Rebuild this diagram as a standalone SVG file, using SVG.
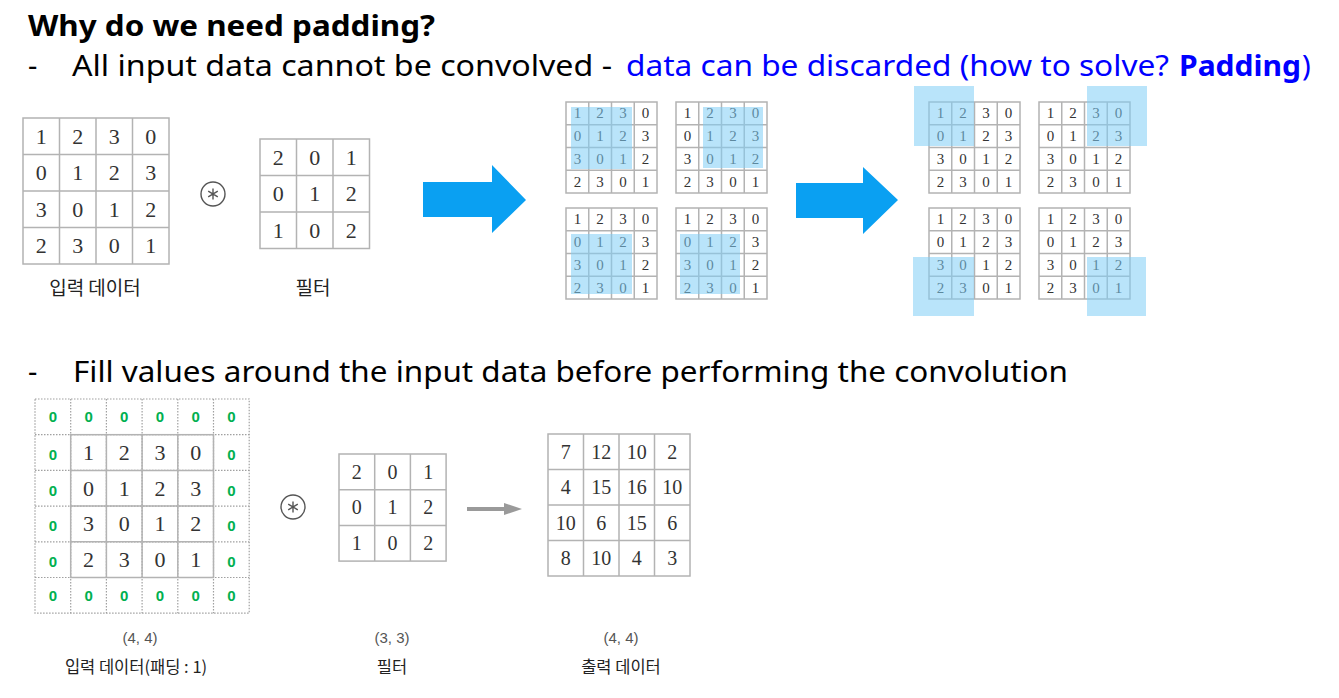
<svg xmlns="http://www.w3.org/2000/svg" width="1339" height="698" viewBox="0 0 1339 698">
<style>
.bg{fill:#fff}
.g{fill:none;stroke:#b3b3b3;stroke-width:1.5}
.d{fill:none;stroke:#a0a0a0;stroke-width:1.2;stroke-dasharray:1.5 1.5}
.n{font-family:"Liberation Serif","DejaVu Serif",serif;fill:#333;text-anchor:middle}
.L{font-size:22px}
.M{font-size:20px}
.s{font-size:15px}
.z{font-family:"Liberation Sans",Arial,sans-serif;font-weight:bold;font-size:15px;fill:#00b050;text-anchor:middle}
.hl{fill:#7fcdf5;fill-opacity:0.55}
.t{font-family:"Noto Sans","Open Sans","Liberation Sans",sans-serif;fill:#000}
.kr{font-family:"Noto Sans CJK KR","Noto Sans",sans-serif;fill:#222;text-anchor:middle}
.dim{font-family:"Liberation Sans",Arial,sans-serif;font-size:15px;fill:#555;text-anchor:middle}
.op{fill:none;stroke:#555;stroke-width:1.4}
</style>
<rect class="bg" width="1339" height="698"/>

<g id="heading">
<text class="t" x="28" y="36" font-size="29" font-weight="bold" textLength="407" lengthAdjust="spacingAndGlyphs">Why do we need padding?</text>
<text class="t" x="28" y="76" font-size="29">-</text>
<text class="t" x="72" y="76" font-size="29" textLength="540" lengthAdjust="spacingAndGlyphs">All input data cannot be convolved -</text>
<text class="t" x="626" y="76" font-size="29" style="fill:#0000ff" textLength="543" lengthAdjust="spacingAndGlyphs">data can be discarded (how to solve?</text>
<text class="t" x="1179" y="76" font-size="29" font-weight="bold" style="fill:#0000ff" textLength="122" lengthAdjust="spacingAndGlyphs">Padding</text>
<text class="t" x="1302" y="76" font-size="29" style="fill:#0000ff">)</text>
<text class="t" x="28" y="382" font-size="29">-</text>
<text class="t" x="73" y="382" font-size="29" textLength="995" lengthAdjust="spacingAndGlyphs">Fill values around the input data before performing the convolution</text>
</g>

<g id="input-top" transform="translate(23,118)">
<rect class="g" width="146" height="146"/>
<path class="g" d="M36.5 0V146M73 0V146M109.5 0V146M0 36.5H146M0 73H146M0 109.5H146"/>
<text class="n L" x="18.25" y="25.75">1</text><text class="n L" x="54.75" y="25.75">2</text><text class="n L" x="91.25" y="25.75">3</text><text class="n L" x="127.75" y="25.75">0</text>
<text class="n L" x="18.25" y="62.25">0</text><text class="n L" x="54.75" y="62.25">1</text><text class="n L" x="91.25" y="62.25">2</text><text class="n L" x="127.75" y="62.25">3</text>
<text class="n L" x="18.25" y="98.75">3</text><text class="n L" x="54.75" y="98.75">0</text><text class="n L" x="91.25" y="98.75">1</text><text class="n L" x="127.75" y="98.75">2</text>
<text class="n L" x="18.25" y="135.25">2</text><text class="n L" x="54.75" y="135.25">3</text><text class="n L" x="91.25" y="135.25">0</text><text class="n L" x="127.75" y="135.25">1</text>
<text class="kr" x="72" y="177" font-size="19">입력 데이터</text>
</g>

<g id="conv-op-top">
<circle class="op" cx="213" cy="194" r="12"/>
<path class="op" stroke-width="1.1" d="M213 188.5V199.5M208.2 191.2L217.8 196.8M208.2 196.8L217.8 191.2"/>
</g>

<g id="filter-top" transform="translate(260,139)">
<rect class="g" width="109.5" height="109.5"/>
<path class="g" d="M36.5 0V109.5M73 0V109.5M0 36.5H109.5M0 73H109.5"/>
<text class="n L" x="18.25" y="25.75">2</text><text class="n L" x="54.75" y="25.75">0</text><text class="n L" x="91.25" y="25.75">1</text>
<text class="n L" x="18.25" y="62.25">0</text><text class="n L" x="54.75" y="62.25">1</text><text class="n L" x="91.25" y="62.25">2</text>
<text class="n L" x="18.25" y="98.75">1</text><text class="n L" x="54.75" y="98.75">0</text><text class="n L" x="91.25" y="98.75">2</text>
<text class="kr" x="53" y="156" font-size="19">필터</text>
</g>

<g id="connectors">
<polygon fill="#0aa0f2" points="423,182 492,182 492,165 526,200 492,233 492,217 423,217"/>
<polygon fill="#0aa0f2" points="796,183 863,183 863,167 898,200 863,234 863,218 796,218"/>
<line x1="467" y1="509" x2="508" y2="509" stroke="#9a9a9a" stroke-width="4"/>
<polygon fill="#9a9a9a" points="504,503 522,509 504,515"/>
</g>

<g id="slide-1" transform="translate(566,102)">
<rect class="g" width="91" height="91"/><path class="g" d="M22.75 0V91M45.5 0V91M68.25 0V91M0 22.75H91M0 45.5H91M0 68.25H91"/>
<text class="n s" x="11.4" y="16.4">1</text><text class="n s" x="34.1" y="16.4">2</text><text class="n s" x="56.9" y="16.4">3</text><text class="n s" x="79.6" y="16.4">0</text>
<text class="n s" x="11.4" y="39.1">0</text><text class="n s" x="34.1" y="39.1">1</text><text class="n s" x="56.9" y="39.1">2</text><text class="n s" x="79.6" y="39.1">3</text>
<text class="n s" x="11.4" y="61.9">3</text><text class="n s" x="34.1" y="61.9">0</text><text class="n s" x="56.9" y="61.9">1</text><text class="n s" x="79.6" y="61.9">2</text>
<text class="n s" x="11.4" y="84.6">2</text><text class="n s" x="34.1" y="84.6">3</text><text class="n s" x="56.9" y="84.6">0</text><text class="n s" x="79.6" y="84.6">1</text>
<rect class="hl" x="5" y="5" width="61" height="62"/>
</g>
<g id="slide-2" transform="translate(676,102)">
<rect class="g" width="91" height="91"/><path class="g" d="M22.75 0V91M45.5 0V91M68.25 0V91M0 22.75H91M0 45.5H91M0 68.25H91"/>
<text class="n s" x="11.4" y="16.4">1</text><text class="n s" x="34.1" y="16.4">2</text><text class="n s" x="56.9" y="16.4">3</text><text class="n s" x="79.6" y="16.4">0</text>
<text class="n s" x="11.4" y="39.1">0</text><text class="n s" x="34.1" y="39.1">1</text><text class="n s" x="56.9" y="39.1">2</text><text class="n s" x="79.6" y="39.1">3</text>
<text class="n s" x="11.4" y="61.9">3</text><text class="n s" x="34.1" y="61.9">0</text><text class="n s" x="56.9" y="61.9">1</text><text class="n s" x="79.6" y="61.9">2</text>
<text class="n s" x="11.4" y="84.6">2</text><text class="n s" x="34.1" y="84.6">3</text><text class="n s" x="56.9" y="84.6">0</text><text class="n s" x="79.6" y="84.6">1</text>
<rect class="hl" x="27" y="5" width="60" height="61"/>
</g>
<g id="slide-3" transform="translate(566,208)">
<rect class="g" width="91" height="91"/><path class="g" d="M22.75 0V91M45.5 0V91M68.25 0V91M0 22.75H91M0 45.5H91M0 68.25H91"/>
<text class="n s" x="11.4" y="16.4">1</text><text class="n s" x="34.1" y="16.4">2</text><text class="n s" x="56.9" y="16.4">3</text><text class="n s" x="79.6" y="16.4">0</text>
<text class="n s" x="11.4" y="39.1">0</text><text class="n s" x="34.1" y="39.1">1</text><text class="n s" x="56.9" y="39.1">2</text><text class="n s" x="79.6" y="39.1">3</text>
<text class="n s" x="11.4" y="61.9">3</text><text class="n s" x="34.1" y="61.9">0</text><text class="n s" x="56.9" y="61.9">1</text><text class="n s" x="79.6" y="61.9">2</text>
<text class="n s" x="11.4" y="84.6">2</text><text class="n s" x="34.1" y="84.6">3</text><text class="n s" x="56.9" y="84.6">0</text><text class="n s" x="79.6" y="84.6">1</text>
<rect class="hl" x="5" y="26" width="61" height="60"/>
</g>
<g id="slide-4" transform="translate(676,208)">
<rect class="g" width="91" height="91"/><path class="g" d="M22.75 0V91M45.5 0V91M68.25 0V91M0 22.75H91M0 45.5H91M0 68.25H91"/>
<text class="n s" x="11.4" y="16.4">1</text><text class="n s" x="34.1" y="16.4">2</text><text class="n s" x="56.9" y="16.4">3</text><text class="n s" x="79.6" y="16.4">0</text>
<text class="n s" x="11.4" y="39.1">0</text><text class="n s" x="34.1" y="39.1">1</text><text class="n s" x="56.9" y="39.1">2</text><text class="n s" x="79.6" y="39.1">3</text>
<text class="n s" x="11.4" y="61.9">3</text><text class="n s" x="34.1" y="61.9">0</text><text class="n s" x="56.9" y="61.9">1</text><text class="n s" x="79.6" y="61.9">2</text>
<text class="n s" x="11.4" y="84.6">2</text><text class="n s" x="34.1" y="84.6">3</text><text class="n s" x="56.9" y="84.6">0</text><text class="n s" x="79.6" y="84.6">1</text>
<rect class="hl" x="4" y="26" width="60" height="60"/>
</g>

<g id="corner-1" transform="translate(929,102)">
<rect class="g" width="91" height="91"/><path class="g" d="M22.75 0V91M45.5 0V91M68.25 0V91M0 22.75H91M0 45.5H91M0 68.25H91"/>
<text class="n s" x="11.4" y="16.4">1</text><text class="n s" x="34.1" y="16.4">2</text><text class="n s" x="56.9" y="16.4">3</text><text class="n s" x="79.6" y="16.4">0</text>
<text class="n s" x="11.4" y="39.1">0</text><text class="n s" x="34.1" y="39.1">1</text><text class="n s" x="56.9" y="39.1">2</text><text class="n s" x="79.6" y="39.1">3</text>
<text class="n s" x="11.4" y="61.9">3</text><text class="n s" x="34.1" y="61.9">0</text><text class="n s" x="56.9" y="61.9">1</text><text class="n s" x="79.6" y="61.9">2</text>
<text class="n s" x="11.4" y="84.6">2</text><text class="n s" x="34.1" y="84.6">3</text><text class="n s" x="56.9" y="84.6">0</text><text class="n s" x="79.6" y="84.6">1</text>
<rect class="hl" x="-15" y="-16" width="60" height="60"/>
</g>
<g id="corner-2" transform="translate(1039,102)">
<rect class="g" width="91" height="91"/><path class="g" d="M22.75 0V91M45.5 0V91M68.25 0V91M0 22.75H91M0 45.5H91M0 68.25H91"/>
<text class="n s" x="11.4" y="16.4">1</text><text class="n s" x="34.1" y="16.4">2</text><text class="n s" x="56.9" y="16.4">3</text><text class="n s" x="79.6" y="16.4">0</text>
<text class="n s" x="11.4" y="39.1">0</text><text class="n s" x="34.1" y="39.1">1</text><text class="n s" x="56.9" y="39.1">2</text><text class="n s" x="79.6" y="39.1">3</text>
<text class="n s" x="11.4" y="61.9">3</text><text class="n s" x="34.1" y="61.9">0</text><text class="n s" x="56.9" y="61.9">1</text><text class="n s" x="79.6" y="61.9">2</text>
<text class="n s" x="11.4" y="84.6">2</text><text class="n s" x="34.1" y="84.6">3</text><text class="n s" x="56.9" y="84.6">0</text><text class="n s" x="79.6" y="84.6">1</text>
<rect class="hl" x="48" y="-16" width="60" height="60"/>
</g>
<g id="corner-3" transform="translate(929,208)">
<rect class="g" width="91" height="91"/><path class="g" d="M22.75 0V91M45.5 0V91M68.25 0V91M0 22.75H91M0 45.5H91M0 68.25H91"/>
<text class="n s" x="11.4" y="16.4">1</text><text class="n s" x="34.1" y="16.4">2</text><text class="n s" x="56.9" y="16.4">3</text><text class="n s" x="79.6" y="16.4">0</text>
<text class="n s" x="11.4" y="39.1">0</text><text class="n s" x="34.1" y="39.1">1</text><text class="n s" x="56.9" y="39.1">2</text><text class="n s" x="79.6" y="39.1">3</text>
<text class="n s" x="11.4" y="61.9">3</text><text class="n s" x="34.1" y="61.9">0</text><text class="n s" x="56.9" y="61.9">1</text><text class="n s" x="79.6" y="61.9">2</text>
<text class="n s" x="11.4" y="84.6">2</text><text class="n s" x="34.1" y="84.6">3</text><text class="n s" x="56.9" y="84.6">0</text><text class="n s" x="79.6" y="84.6">1</text>
<rect class="hl" x="-16" y="49" width="61" height="59"/>
</g>
<g id="corner-4" transform="translate(1039,208)">
<rect class="g" width="91" height="91"/><path class="g" d="M22.75 0V91M45.5 0V91M68.25 0V91M0 22.75H91M0 45.5H91M0 68.25H91"/>
<text class="n s" x="11.4" y="16.4">1</text><text class="n s" x="34.1" y="16.4">2</text><text class="n s" x="56.9" y="16.4">3</text><text class="n s" x="79.6" y="16.4">0</text>
<text class="n s" x="11.4" y="39.1">0</text><text class="n s" x="34.1" y="39.1">1</text><text class="n s" x="56.9" y="39.1">2</text><text class="n s" x="79.6" y="39.1">3</text>
<text class="n s" x="11.4" y="61.9">3</text><text class="n s" x="34.1" y="61.9">0</text><text class="n s" x="56.9" y="61.9">1</text><text class="n s" x="79.6" y="61.9">2</text>
<text class="n s" x="11.4" y="84.6">2</text><text class="n s" x="34.1" y="84.6">3</text><text class="n s" x="56.9" y="84.6">0</text><text class="n s" x="79.6" y="84.6">1</text>
<rect class="hl" x="48" y="49" width="59" height="59"/>
</g>

<g id="input-padded" transform="translate(35,399)">
<rect class="d" width="214.2" height="214.2"/>
<path class="d" d="M35.7 0V214.2M71.4 0V214.2M107.1 0V214.2M142.8 0V214.2M178.5 0V214.2M0 35.7H214.2M0 71.4H214.2M0 107.1H214.2M0 142.8H214.2M0 178.5H214.2"/>
<rect class="g" x="35.7" y="35.7" width="142.8" height="142.8"/>
<path class="g" d="M71.4 35.7V178.5M107.1 35.7V178.5M142.8 35.7V178.5M35.7 71.4H178.5M35.7 107.1H178.5M35.7 142.8H178.5"/>
<text class="z" x="17.85" y="23.3">0</text><text class="z" x="53.55" y="23.3">0</text><text class="z" x="89.25" y="23.3">0</text><text class="z" x="124.95" y="23.3">0</text><text class="z" x="160.65" y="23.3">0</text><text class="z" x="196.35" y="23.3">0</text>
<text class="z" x="17.85" y="61">0</text><text class="z" x="196.35" y="61">0</text>
<text class="z" x="17.85" y="96.7">0</text><text class="z" x="196.35" y="96.7">0</text>
<text class="z" x="17.85" y="132.4">0</text><text class="z" x="196.35" y="132.4">0</text>
<text class="z" x="17.85" y="168.1">0</text><text class="z" x="196.35" y="168.1">0</text>
<text class="z" x="17.85" y="202.3">0</text><text class="z" x="53.55" y="202.3">0</text><text class="z" x="89.25" y="202.3">0</text><text class="z" x="124.95" y="202.3">0</text><text class="z" x="160.65" y="202.3">0</text><text class="z" x="196.35" y="202.3">0</text>
<text class="n L" x="53.55" y="61">1</text><text class="n L" x="89.25" y="61">2</text><text class="n L" x="124.95" y="61">3</text><text class="n L" x="160.65" y="61">0</text>
<text class="n L" x="53.55" y="96.7">0</text><text class="n L" x="89.25" y="96.7">1</text><text class="n L" x="124.95" y="96.7">2</text><text class="n L" x="160.65" y="96.7">3</text>
<text class="n L" x="53.55" y="132.4">3</text><text class="n L" x="89.25" y="132.4">0</text><text class="n L" x="124.95" y="132.4">1</text><text class="n L" x="160.65" y="132.4">2</text>
<text class="n L" x="53.55" y="168.1">2</text><text class="n L" x="89.25" y="168.1">3</text><text class="n L" x="124.95" y="168.1">0</text><text class="n L" x="160.65" y="168.1">1</text>
<text class="dim" x="105" y="244">(4, 4)</text>
<text class="kr" x="101" y="274" font-size="16.5">입력 데이터(패딩 : 1)</text>
</g>

<g id="conv-op-bottom">
<circle class="op" cx="293" cy="507" r="12"/>
<path class="op" stroke-width="1.1" d="M293 501.5V512.5M288.2 504.2L297.8 509.8M288.2 509.8L297.8 504.2"/>
</g>

<g id="filter-bottom" transform="translate(339,454)">
<rect class="g" width="107.1" height="107.1"/>
<path class="g" d="M35.7 0V107.1M71.4 0V107.1M0 35.7H107.1M0 71.4H107.1"/>
<text class="n M" x="17.85" y="24.7">2</text><text class="n M" x="53.55" y="24.7">0</text><text class="n M" x="89.25" y="24.7">1</text>
<text class="n M" x="17.85" y="60.4">0</text><text class="n M" x="53.55" y="60.4">1</text><text class="n M" x="89.25" y="60.4">2</text>
<text class="n M" x="17.85" y="96.1">1</text><text class="n M" x="53.55" y="96.1">0</text><text class="n M" x="89.25" y="96.1">2</text>
<text class="dim" x="53" y="189">(3, 3)</text>
<text class="kr" x="53" y="219" font-size="16.5">필터</text>
</g>

<g id="output" transform="translate(548,434)">
<rect class="g" width="142" height="142"/>
<path class="g" d="M35.5 0V142M71 0V142M106.5 0V142M0 35.5H142M0 71H142M0 106.5H142"/>
<text class="n M" x="17.75" y="24.6">7</text><text class="n M" x="53.25" y="24.6">12</text><text class="n M" x="88.75" y="24.6">10</text><text class="n M" x="124.25" y="24.6">2</text>
<text class="n M" x="17.75" y="60.1">4</text><text class="n M" x="53.25" y="60.1">15</text><text class="n M" x="88.75" y="60.1">16</text><text class="n M" x="124.25" y="60.1">10</text>
<text class="n M" x="17.75" y="95.6">10</text><text class="n M" x="53.25" y="95.6">6</text><text class="n M" x="88.75" y="95.6">15</text><text class="n M" x="124.25" y="95.6">6</text>
<text class="n M" x="17.75" y="131.1">8</text><text class="n M" x="53.25" y="131.1">10</text><text class="n M" x="88.75" y="131.1">4</text><text class="n M" x="124.25" y="131.1">3</text>
<text class="dim" x="73" y="209">(4, 4)</text>
<text class="kr" x="73" y="239" font-size="16.5">출력 데이터</text>
</g>
</svg>
